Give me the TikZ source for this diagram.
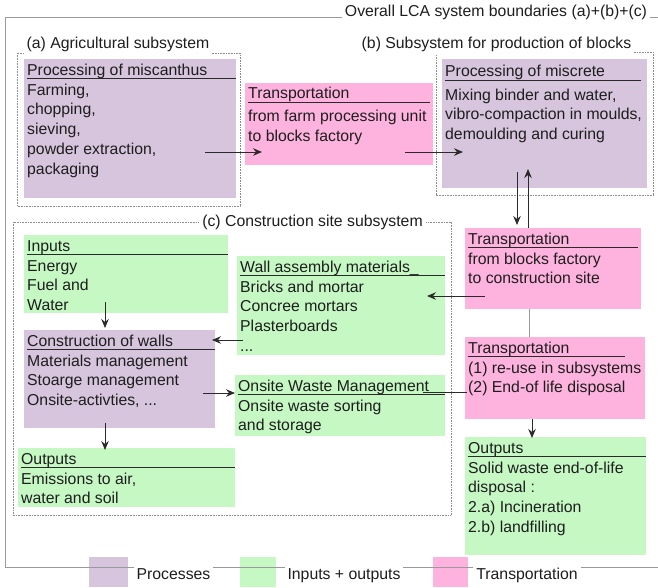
\documentclass[tikz,border=0pt]{standalone}
\usepackage{fontspec}
\setmainfont{Liberation Sans}
\usetikzlibrary{arrows.meta}
\definecolor{procc}{HTML}{D6C5DC}
\definecolor{ioc}{HTML}{C6F8C4}
\definecolor{trc}{HTML}{FDB3DD}
\definecolor{txtc}{HTML}{1E1E1E}
\definecolor{linec}{HTML}{2A2A2A}
\definecolor{framec}{HTML}{9A9A9A}
\definecolor{dotc}{HTML}{8C8C8C}
\newcommand\bgap{20}
\newcommand\toff{16}
% name, style, left, top, right, bottom, underline end, title, body
\newcommand\mkbox[9]{%
  \node[#2, anchor=north west, minimum width=#5-#3, minimum height=#6-#4] (#1) at (#3,#4) {};
  \node[txt, anchor=base west] (#1t) at (#3+3,#4+\toff) {#8};
  \draw[uline] (#3+3,#4+\toff+3.5) -- (#7,#4+\toff+3.5);
  \node[txt, anchor=north west, align=left] (#1b) at (#3+3,#4+\toff+\bgap-13.79) {\strut #9};
}
\begin{document}
\begin{tikzpicture}[x=1pt,y=-1pt,
  txt/.style={font=\fontsize{15.8}{19.7}\selectfont, text=txtc, inner sep=0pt},
  procbox/.style={fill=procc, draw=none, inner sep=0pt},
  iobox/.style={fill=ioc, draw=none, inner sep=0pt},
  trbox/.style={fill=trc, draw=none, inner sep=0pt},
  uline/.style={draw=linec, line width=1pt},
  greyline/.style={draw=framec, line width=1pt},
  arr/.style={draw=linec, line width=0.8pt, -{Stealth[length=9pt,width=7.5pt,inset=3pt]}},
  frame/.style={draw=framec, line width=0.8pt},
  dotbox/.style={draw=dotc, line width=0.6pt, dash pattern=on 0.7pt off 0.9pt},
  lbl/.style={txt, fill=white, inner xsep=3pt, inner ysep=3pt},
]
\useasboundingbox (0,0) rectangle (658,587);

% legend squares
\node[procbox, anchor=north west, minimum width=39, minimum height=30] (lgp) at (89,557) {};
\node[iobox, anchor=north west, minimum width=36, minimum height=30] (lgi) at (240,557) {};
\node[trbox, anchor=north west, minimum width=35, minimum height=30] (lgt) at (433,557) {};

% outer boundary
\draw[frame] (658,17) -- (5,17) -- (5,567) -- (658,567);

% subsystem boundaries
\draw[dotbox] (17,53) rectangle (240,206);
\draw[dotbox] (436,52) rectangle (653,195);
\draw[dotbox] (13,222) rectangle (451,515);

% boundary labels
\node[lbl, anchor=base] (ttl) at (496,16) {Overall LCA system boundaries (a)+(b)+(c)};
\node[lbl, anchor=base, inner ysep=4pt] (la) at (118,48) {(a) Agricultural subsystem};
\node[lbl, anchor=base, inner ysep=4pt] (lb) at (496.5,48) {(b) Subsystem for production of blocks};
\node[lbl, anchor=base] (lc) at (312.5,226.5) {(c) Construction site subsystem};

% legend texts
\node[lbl, anchor=base] (lgpt) at (173.5,579) {Processes};
\node[lbl, anchor=base] (lgit) at (344,579) {Inputs + outputs};
\node[lbl, anchor=base] (lgtt) at (527,579) {Transportation};

% boxes
\mkbox{p1}{procbox}{24}{59}{236}{198}{236}{Processing of miscanthus}{Farming,\\chopping,\\sieving,\\powder extraction,\\packaging}
\renewcommand\toff{15.5}\renewcommand\bgap{23}
\mkbox{t1}{trbox}{245}{83}{433}{165}{430}{Transportation}{from farm processing unit\\to blocks factory}
\renewcommand\toff{17.5}\renewcommand\bgap{23.3}
\mkbox{p2}{procbox}{442}{59}{647}{188}{641}{Processing of miscrete}{Mixing binder and water,\\vibro-compaction in moulds,\\demoulding and curing}
\renewcommand\toff{16}\renewcommand\bgap{20}
\mkbox{in}{iobox}{24}{235}{228}{313}{228}{Inputs}{Energy\\Fuel and\\Water}
\mkbox{cw}{procbox}{24}{330}{215}{428}{215}{Construction of walls}{Materials management\\Stoarge management\\Onsite-activties, ...}
\mkbox{oa}{iobox}{18}{448}{235}{507}{235}{Outputs}{Emissions to air,\\water and soil}
\mkbox{wa}{iobox}{237}{256}{445}{355}{445}{Wall assembly materials\_}{Bricks and mortar\\Concree mortars\\Plasterboards\\...}
\mkbox{ow}{iobox}{235}{375}{445}{436}{445}{Onsite Waste Management}{Onsite waste sorting\\and storage}
\mkbox{t2}{trbox}{465}{228}{641}{309}{638}{Transportation}{from blocks factory\\to construction site}
\mkbox{t3}{trbox}{465}{337}{645}{419}{625}{Transportation}{(1) re-use in subsystems\\(2) End-of life disposal}
\mkbox{ob}{iobox}{465}{437}{646}{555}{646}{Outputs}{Solid waste end-of-life\\disposal :\\2.a) Incineration\\2.b) landfilling}

% connector end points
\coordinate (a1s) at (205,152); \coordinate (a1e) at (262,152);
\coordinate (a2s) at (405,152); \coordinate (a2e) at (463,152);
\coordinate (a3s) at (517,172); \coordinate (a3e) at (517,225);
\coordinate (a4s) at (528,228); \coordinate (a4e) at (528,169);
\coordinate (a5s) at (485,296); \coordinate (a5e) at (427,296);
\coordinate (a6s) at (243,340); \coordinate (a6e) at (212,340);
\coordinate (a7s) at (105,302); \coordinate (a7e) at (105,328);
\coordinate (a8s) at (105,423); \coordinate (a8e) at (105,450);
\coordinate (a9s) at (203,393); \coordinate (a9e) at (235,393);
\coordinate (l1s) at (423,392); \coordinate (l1e) at (467,392);
\coordinate (l2s) at (529,309); \coordinate (l2e) at (529,337);
\coordinate (a10s) at (532,419); \coordinate (a10e) at (532,438);

\draw[arr] (a1s) -- (a1e);
\draw[arr] (a2s) -- (a2e);
\draw[arr] (a3s) -- (a3e);
\draw[arr] (a4s) -- (a4e);
\draw[arr] (a5s) -- (a5e);
\draw[arr] (a6s) -- (a6e);
\draw[arr] (a7s) -- (a7e);
\draw[arr] (a8s) -- (a8e);
\draw[arr] (a9s) -- (a9e);
\draw[uline, line width=0.8pt] (l1s) -- (l1e);
\draw[greyline] (l2s) -- (l2e);
\draw[arr] (a10s) -- (a10e);
\end{tikzpicture}
\end{document}
